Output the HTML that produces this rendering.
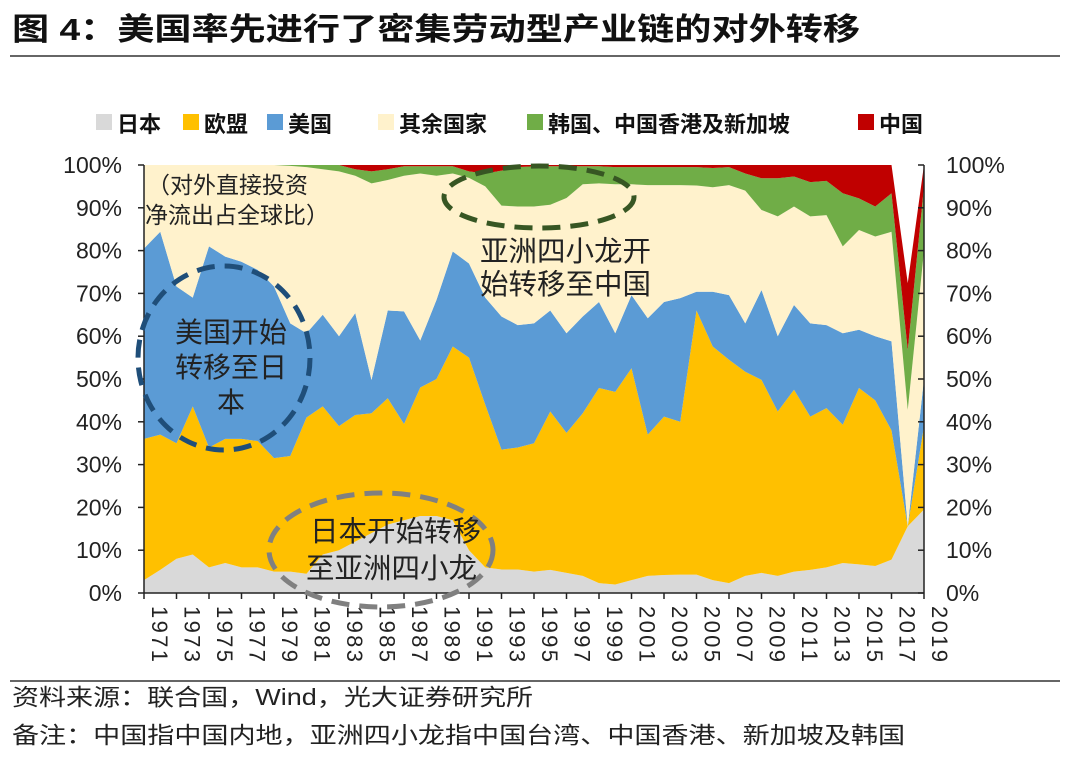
<!DOCTYPE html>
<html><head><meta charset="utf-8">
<style>
body{margin:0;background:#fff;width:1080px;height:754px;overflow:hidden;font-family:"Liberation Sans","Noto Sans CJK SC",sans-serif;}
svg text{font-family:"Liberation Sans","Noto Sans CJK SC",sans-serif;}
</style></head>
<body>
<svg id="chart" width="1080" height="754" xmlns="http://www.w3.org/2000/svg">
<text x="12" y="40" font-size="31" font-weight="bold" fill="#111" textLength="848" lengthAdjust="spacingAndGlyphs">图 4：美国率先进行了密集劳动型产业链的对外转移</text>
<line x1="10" y1="56" x2="1060" y2="56" stroke="#333" stroke-width="1.5"/>
<g id="legend"></g>
<g id="areas"></g>
<g id="axes"></g>
<g font-size="23" fill="#222">
<text x="147" y="193">（对外直接投资</text>
<text x="145" y="223">净流出占全球比）</text>
<ellipse cx="224" cy="358" rx="86" ry="92" fill="none" stroke="#1f4e79" stroke-width="5" stroke-dasharray="18,10"/>
<text font-size="28" text-anchor="middle"><tspan x="231" y="342">美国开始</tspan><tspan x="231" y="377">转移至日</tspan><tspan x="231" y="412">本</tspan></text>
<ellipse cx="381" cy="550" rx="112" ry="57" fill="none" stroke="#808080" stroke-width="5" stroke-dasharray="18,10"/>
<text font-size="28.5"><tspan x="310" y="541">日本开始转移</tspan><tspan x="306" y="578">至亚洲四小龙</tspan></text>
<ellipse cx="539" cy="197" rx="95" ry="31" fill="none" stroke="#375623" stroke-width="5" stroke-dasharray="18,10"/>
<text font-size="28.5"><tspan x="480" y="261">亚洲四小龙开</tspan><tspan x="480" y="294">始转移至中国</tspan></text>
</g>
<line x1="10" y1="681" x2="1060" y2="681" stroke="#333" stroke-width="1.5"/>
<text x="12" y="705" font-size="23" fill="#222" textLength="521" lengthAdjust="spacingAndGlyphs">资料来源：联合国，Wind，光大证券研究所</text>
<text x="12" y="743" font-size="23" fill="#222" textLength="893" lengthAdjust="spacingAndGlyphs">备注：中国指中国内地，亚洲四小龙指中国台湾、中国香港、新加坡及韩国</text>
</svg>
<script>
const years=[];for(let y=1971;y<=2019;y++)years.push(y);
const japan=[3,5.4,8,9,6,7,6,6,5,5,4.5,9,10,12,14,16,17,18,18,17,10,6,5.5,5.5,5,5.4,4.7,4,2.3,2,3,4,4.2,4.3,4.3,3,2.3,4,4.7,4,5,5.4,6,7,6.7,6.3,7.8,15.6,19.5];
const europe=[33,31.6,27,34.6,28,29,30,29.5,26.5,27,36.5,34.6,29,29.6,28,29.5,22.5,30,32,40.6,45,38,28,28.5,30,37,32.7,38,45.6,45,49.5,33,37,35.7,61.7,54.6,52.2,47.7,45.1,38.4,42.5,35.8,37.2,32.3,41.2,38.7,30.2,0,19.5];
const usa=[44.5,47.4,36.6,25.4,47,42.6,41.4,40,40.1,31,19.7,21.4,21,23.8,7.8,20.5,26.3,11,18.5,22.2,22,25,31.1,28.6,28,23.6,23.3,22.6,20.1,13.7,17.1,27.2,26.8,28.9,4.4,12.8,15.1,11.3,21,17.6,19.8,21.8,19.4,21.4,13.6,15,20.8,0,11];
const rest=[19.5,15.6,28.4,31,19,21.4,22.6,24.5,28.4,36.8,38.8,34,38.5,32.1,45.9,30.5,31.7,39,29,18.2,20,26,25.9,27.7,27.3,24.7,31.6,30.9,27.7,34.8,25.9,31.1,27.3,26.4,24.8,24.4,25.7,31,18.7,28,23,25,25.7,20.3,23.3,23.3,25.6,27.2,30];
const asia4=[0,0,0,0,0,0,0,0,0,0.2,0.5,1,1.5,1.5,2.8,2.5,2.2,1.7,2.2,1.7,1.5,3,8.2,9.2,9.4,9,7.4,4.2,4,4,4,4.2,4.2,4.2,4.3,4.5,4.2,4,7.4,8.9,7,8,8,12.4,7.4,7,9,14,15];
const china=[0,0,0,0,0,0,0,0,0,0,0,0,0,1,1.5,1,0.3,0.3,0.3,0.3,1.5,2,1.3,0.5,0.3,0.3,0.3,0.3,0.3,0.5,0.5,0.5,0.5,0.5,0.5,0.7,0.5,2,3.1,3.1,2.7,4,3.7,6.6,7.8,9.7,6.6,15.6,5];
const yTicks=["0%","10%","20%","30%","40%","50%","60%","70%","80%","90%","100%"];
const seriesNames=["日本","欧盟","美国","其余国家","韩国、中国香港及新加坡","中国"];

const NS="http://www.w3.org/2000/svg";
const X0=144,X1=924,Y0=593,Y1=165;
const x=i=>X0+(X1-X0)*(years[i]-years[0])/(years[years.length-1]-years[0]);
const y=v=>Y0-(Y0-Y1)*v/100;
function mk(tag,attrs,parent){const e=document.createElementNS(NS,tag);for(const k in attrs)e.setAttribute(k,attrs[k]);parent.appendChild(e);return e;}
const series=[japan,europe,usa,rest,asia4,china];
const colors=["#d9d9d9","#ffc000","#5b9bd5","#fff2cc","#70ad47","#c00000"];
const keys=["japan","europe","usa","rest","asia4","china"];
const areas=document.getElementById('areas');
let base=years.map(()=>0);
series.forEach((s,k)=>{
  const top=base.map((b,i)=>b+s[i]);
  let d="M"+years.map((_,i)=>x(i)+","+y(top[i])).join("L");
  for(let i=years.length-1;i>=0;i--)d+="L"+x(i)+","+y(base[i]);
  d+="Z";
  const p=mk('path',{d:d,fill:colors[k]},areas);
  
  
  base=top;
});
const ax=document.getElementById('axes');
const st={stroke:"#222","stroke-width":"1.5"};
mk('line',Object.assign({x1:X0,y1:Y1,x2:X0,y2:Y0},st),ax);
mk('line',Object.assign({x1:X1,y1:Y1,x2:X1,y2:Y0},st),ax);
mk('line',Object.assign({x1:X0,y1:Y0,x2:X1,y2:Y0},st),ax);
yTicks.forEach((t,j)=>{
  const v=j*10,yy=y(v);
  mk('line',Object.assign({x1:X0-6,y1:yy,x2:X0,y2:yy},st),ax);
  mk('line',Object.assign({x1:X1-6,y1:yy,x2:X1,y2:yy},st),ax);
  const l=mk('text',{x:122,y:yy+8,"font-size":"23","text-anchor":"end",fill:"#222"},ax);l.textContent=t;
  
  
  const r=mk('text',{x:946,y:yy+8,"font-size":"23",fill:"#222"},ax);r.textContent=t;
  
  
});
years.forEach((yr,i)=>{
  if(i%2)return;
  mk('line',Object.assign({x1:x(i),y1:Y0,x2:x(i),y2:Y0+6},st),ax);
  const t=mk('text',{x:0,y:0,"font-size":"22",fill:"#222",textLength:"56",transform:"translate("+(x(i)+8)+","+(Y0+13)+") rotate(90)"},ax);
  t.textContent=yr;
  
  
});
const lg=document.getElementById('legend');
const lx=[96,183,267,378,527,858];
seriesNames.forEach((n,k)=>{
  const r=mk('rect',{x:lx[k],y:114,width:16,height:16,fill:colors[k]},lg);
  
  
  const t=mk('text',{x:lx[k]+21,y:132,"font-size":"22","font-weight":"bold",fill:"#111"},lg);
  t.textContent=n;
  
  
});
</script>
</body></html>
